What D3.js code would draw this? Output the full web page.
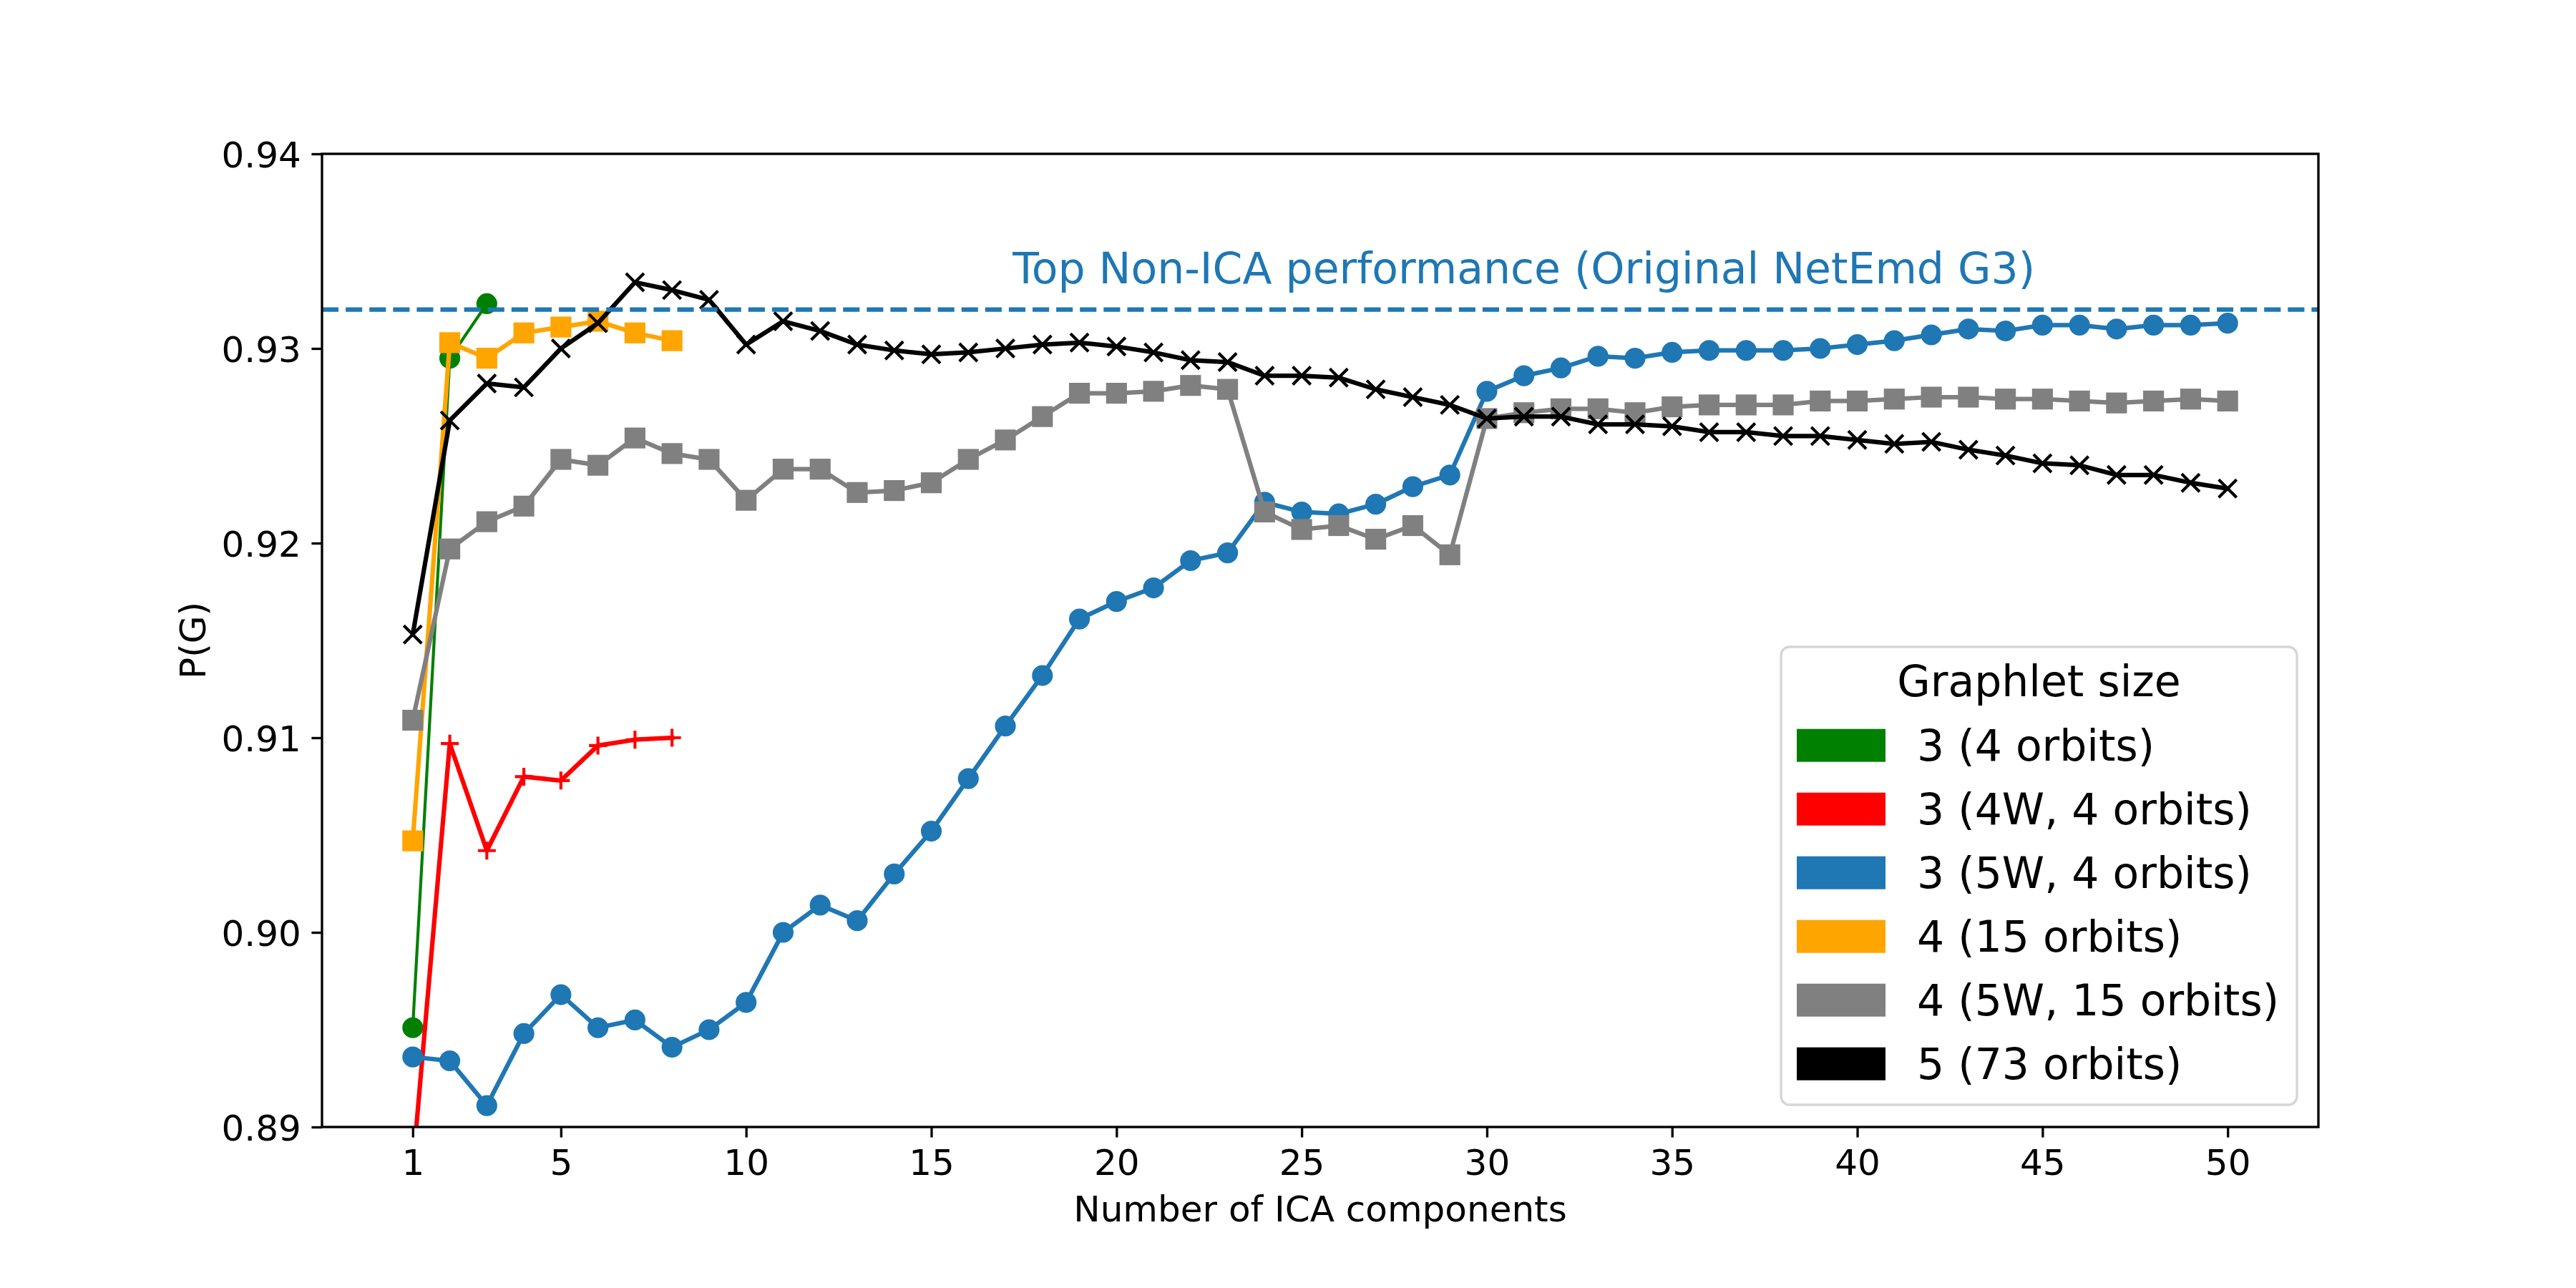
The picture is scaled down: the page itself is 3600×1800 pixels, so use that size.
<!DOCTYPE html>
<html lang="en">
<head>
    <meta charset="UTF-8">
    <script src="https://d3js.org/d3.v7.min.js"></script>
    <style>
        body { margin: 0; background: #fff; }
        svg { display: block; font-family: "DejaVu Sans", sans-serif; }
    </style>
</head>
<body>
    <svg width="3600" height="1800"></svg>
    <script>
        // number of ICA components on the x axis
        let components = [1, 2, 3, 4, 5, 6, 7, 8, 9, 10, 11, 12, 13, 14, 15, 16, 17, 18, 19, 20,
            21, 22, 23, 24, 25, 26, 27, 28, 29, 30, 31, 32, 33, 34, 35, 36, 37, 38, 39, 40,
            41, 42, 43, 44, 45, 46, 47, 48, 49, 50];
        let xTicks = [1, 5, 10, 15, 20, 25, 30, 35, 40, 45, 50];
        let yTicks = [0.89, 0.90, 0.91, 0.92, 0.93, 0.94];

        let g3 = [0.8951, 0.9295, 0.9323];
        let g3w4 = [0.8879, 0.9097, 0.9042, 0.9080, 0.9078, 0.9096, 0.9099, 0.9100];
        let g3w5 = [0.8936, 0.8934, 0.8911, 0.8948, 0.8968, 0.8951, 0.8955, 0.8941, 0.8950, 0.8964,
            0.9000, 0.9014, 0.9006, 0.9030, 0.9052, 0.9079, 0.9106, 0.9132, 0.9161, 0.9170,
            0.9177, 0.9191, 0.9195, 0.9221, 0.9216, 0.9215, 0.9220, 0.9229, 0.9235, 0.9278,
            0.9286, 0.9290, 0.9296, 0.9295, 0.9298, 0.9299, 0.9299, 0.9299, 0.9300, 0.9302,
            0.9304, 0.9307, 0.9310, 0.9309, 0.9312, 0.9312, 0.9310, 0.9312, 0.9312, 0.9313];
        let g4 = [0.9047, 0.9303, 0.9295, 0.9308, 0.9311, 0.9314, 0.9308, 0.9304];
        let g4w5 = [0.9109, 0.9197, 0.9211, 0.9219, 0.9243, 0.9240, 0.9254, 0.9246, 0.9243, 0.9222,
            0.9238, 0.9238, 0.9226, 0.9227, 0.9231, 0.9243, 0.9253, 0.9265, 0.9277, 0.9277,
            0.9278, 0.9281, 0.9279, 0.9216, 0.9207, 0.9209, 0.9202, 0.9209, 0.9194, 0.9264,
            0.9267, 0.9269, 0.9269, 0.9267, 0.9270, 0.9271, 0.9271, 0.9271, 0.9273, 0.9273,
            0.9274, 0.9275, 0.9275, 0.9274, 0.9274, 0.9273, 0.9272, 0.9273, 0.9274, 0.9273];
        let g5 = [0.9153, 0.9263, 0.9282, 0.9280, 0.9300, 0.9313, 0.9334, 0.9330, 0.9325, 0.9302,
            0.9314, 0.9309, 0.9302, 0.9299, 0.9297, 0.9298, 0.9300, 0.9302, 0.9303, 0.9301,
            0.9298, 0.9294, 0.9293, 0.9286, 0.9286, 0.9285, 0.9279, 0.9275, 0.9271, 0.9264,
            0.9265, 0.9265, 0.9261, 0.9261, 0.9260, 0.9257, 0.9257, 0.9255, 0.9255, 0.9253,
            0.9251, 0.9252, 0.9248, 0.9245, 0.9241, 0.9240, 0.9235, 0.9235, 0.9231, 0.9228];
        let topNonIca = 0.932;

        let labels = ["3 (4 orbits)", "3 (4W, 4 orbits)", "3 (5W, 4 orbits)",
            "4 (15 orbits)", "4 (5W, 15 orbits)", "5 (73 orbits)"];
        let colors = ["#008000", "#ff0000", "#1f77b4", "#ffa500", "#808080", "#000000"];
        let markers = ["o", "+", "o", "s", "s", "x"];

        let series = [g3, g3w4, g3w5, g4, g4w5, g5].map((vals, i) => ({
            label: labels[i],
            color: colors[i],
            marker: markers[i],
            lw: i === 0 ? 4.17 : 6.25,
            points: vals.map((v, j) => [components[j], v])
        }));

        let svg = d3.select("svg"),
            margin = { top: 215, right: 360, bottom: 225, left: 450 },
            width = +svg.attr("width") - margin.left - margin.right,
            height = +svg.attr("height") - margin.top - margin.bottom;

        let x = d3.scaleLinear().domain([-1.45, 52.45]).range([margin.left, margin.left + width]);
        let y = d3.scaleLinear().domain([0.89, 0.94]).range([margin.top + height, margin.top]);

        svg.append("rect").attr("width", 3600).attr("height", 1800).attr("fill", "#fff");

        svg.append("clipPath").attr("id", "plot-area")
            .append("rect")
            .attr("x", margin.left).attr("y", margin.top)
            .attr("width", width).attr("height", height);

        let plot = svg.append("g").attr("clip-path", "url(#plot-area)");
        let line = d3.line().x(d => x(d[0])).y(d => y(d[1]));

        series.forEach(s => {
            plot.append("path")
                .datum(s.points)
                .attr("d", line)
                .attr("fill", "none")
                .attr("stroke", s.color)
                .attr("stroke-width", s.lw)
                .attr("stroke-linejoin", "round")
                .attr("stroke-linecap", "square");

            let m = plot.append("g");
            if (s.marker === "o") {
                m.selectAll("circle").data(s.points).enter().append("circle")
                    .attr("cx", d => x(d[0])).attr("cy", d => y(d[1]))
                    .attr("r", 12.5)
                    .attr("fill", s.color).attr("stroke", s.color).attr("stroke-width", 4.17);
            } else if (s.marker === "s") {
                m.selectAll("rect").data(s.points).enter().append("rect")
                    .attr("x", d => x(d[0]) - 12.5).attr("y", d => y(d[1]) - 12.5)
                    .attr("width", 25).attr("height", 25)
                    .attr("fill", s.color).attr("stroke", s.color).attr("stroke-width", 4.17);
            } else {
                let shape = s.marker === "x"
                    ? "M-12.5,-12.5L12.5,12.5M-12.5,12.5L12.5,-12.5"
                    : "M-12.5,0H12.5M0,-12.5V12.5";
                m.selectAll("path").data(s.points).enter().append("path")
                    .attr("transform", d => `translate(${x(d[0])},${y(d[1])})`)
                    .attr("d", shape)
                    .attr("fill", "none").attr("stroke", s.color).attr("stroke-width", 4.17);
            }
        });

        // best non-ICA result as a dashed horizontal line
        plot.append("line")
            .attr("x1", margin.left).attr("x2", margin.left + width)
            .attr("y1", y(topNonIca)).attr("y2", y(topNonIca))
            .attr("stroke", "#1f77b4")
            .attr("stroke-width", 6.25)
            .attr("stroke-dasharray", "23.1 10");

        svg.append("text")
            .attr("x", x(31))
            .attr("y", y(0.93335))
            .attr("text-anchor", "middle")
            .attr("fill", "#1f77b4")
            .attr("font-size", "60px")
            .text("Top Non-ICA performance (Original NetEmd G3)");

        // axes
        let xAxis = svg.append("g")
            .attr("transform", `translate(0,${margin.top + height})`)
            .call(d3.axisBottom(x).tickValues(xTicks).tickSize(14.58).tickFormat(d3.format("d")));
        xAxis.select(".domain").remove();
        xAxis.selectAll("line").attr("stroke", "#000").attr("stroke-width", 3.33);
        xAxis.selectAll("text")
            .attr("y", 66.7).attr("dy", null)
            .attr("fill", "#000")
            .attr("font-size", "50px")
            .attr("font-family", "DejaVu Sans");

        let yAxis = svg.append("g")
            .attr("transform", `translate(${margin.left},0)`)
            .call(d3.axisLeft(y).tickValues(yTicks).tickSize(14.58).tickFormat(d3.format(".2f")));
        yAxis.select(".domain").remove();
        yAxis.selectAll("line").attr("stroke", "#000").attr("stroke-width", 3.33);
        yAxis.selectAll("text")
            .attr("x", -29.2).attr("y", 18).attr("dy", null)
            .attr("fill", "#000")
            .attr("font-size", "50px")
            .attr("font-family", "DejaVu Sans");

        svg.append("rect")
            .attr("x", margin.left).attr("y", margin.top)
            .attr("width", width).attr("height", height)
            .attr("fill", "none")
            .attr("stroke", "#000")
            .attr("stroke-width", 3.33);

        svg.append("text")
            .attr("x", margin.left + width / 2)
            .attr("y", 1706.7)
            .attr("text-anchor", "middle")
            .attr("font-size", "50px")
            .text("Number of ICA components");

        svg.append("text")
            .attr("transform", `translate(287,${margin.top + height / 2}) rotate(-90)`)
            .attr("text-anchor", "middle")
            .attr("font-size", "50px")
            .text("P(G)");

        // legend
        let legend = svg.append("g").attr("transform", "translate(2489,904)");
        legend.append("rect")
            .attr("width", 721).attr("height", 640)
            .attr("rx", 12).attr("ry", 12)
            .attr("fill", "#fff").attr("fill-opacity", 0.8)
            .attr("stroke", "#d6d6d6").attr("stroke-width", 3.33);
        legend.append("text")
            .attr("x", 360.5).attr("y", 69)
            .attr("text-anchor", "middle")
            .attr("font-size", "60px")
            .text("Graphlet size");

        let rows = legend.selectAll(".entry")
            .data(series)
            .enter().append("g")
            .attr("class", "entry")
            .attr("transform", (d, i) => `translate(0,${158.7 + i * 89})`);
        rows.append("rect")
            .attr("x", 22).attr("y", -44)
            .attr("width", 124).attr("height", 46)
            .attr("fill", d => d.color);
        rows.append("text")
            .attr("x", 190)
            .attr("font-size", "60px")
            .text(d => d.label);
    </script>
</body>
</html>
